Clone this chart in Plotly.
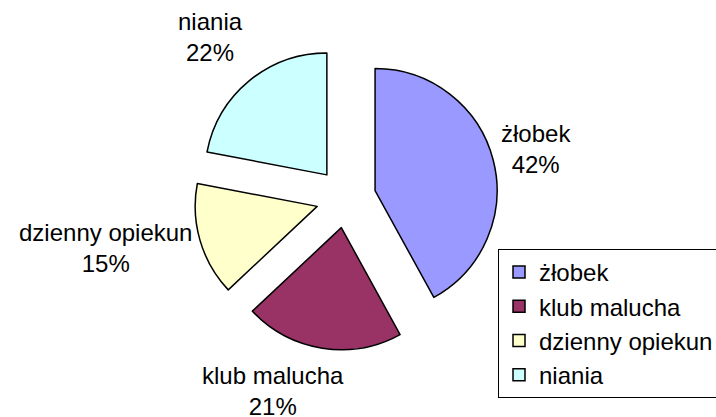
import math
import plotly.graph_objects as go

labels = ["żłobek", "klub malucha", "dzienny opiekun", "niania"]
values = [42, 21, 15, 22]
colors = ["#9999FF", "#993366", "#FFFFCC", "#CCFFFF"]

W, H = 716, 417
FONT = "Liberation Sans, Arial, sans-serif"
FS = 24

# pie placement (pixels)
cx, cy = 346, 198
radius = 122
pull = 0.246
half = radius * (1 + pull)

fig = go.Figure(go.Pie(
    labels=labels,
    values=values,
    sort=False,
    direction="clockwise",
    rotation=0,
    pull=[pull] * len(values),
    marker=dict(colors=colors, line=dict(color="black", width=1.5)),
    textinfo="none",
    hoverinfo="label+percent",
    domain=dict(x=[(cx - half) / W, (cx + half) / W],
                y=[1 - (cy + half) / H, 1 - (cy - half) / H]),
))

# data labels placed along each slice bisector
total = sum(values)
acc = 0
R_x = 158
R_y_side, R_y_end = 187, 166
lcy = 196
for lab, v in zip(labels, values):
    mid = (acc + v / 2) / total * 2 * math.pi
    acc += v
    sx, cyv = math.sin(mid), math.cos(mid)
    xa = "left" if sx > 0 else "right"
    px = cx if abs(sx) < 0.3 else cx + R_x * sx
    if abs(cyv) < 0.5:
        ya = "middle"
        py = lcy - R_y_side * cyv
    else:
        ya = "bottom" if cyv > 0 else "top"
        py = lcy - R_y_end * cyv
    fig.add_annotation(
        x=px / W, y=1 - py / H, xref="paper", yref="paper",
        text=f"{lab}<br>{round(v / total * 100)}%",
        showarrow=False, xanchor=xa, yanchor=ya, align="center",
        font=dict(family=FONT, size=FS, color="black"),
    )

fig.update_layout(
    width=W, height=H,
    margin=dict(l=0, r=0, t=0, b=0, autoexpand=False),
    paper_bgcolor="white", plot_bgcolor="white",
    font=dict(family=FONT, size=FS, color="black"),
    showlegend=True,
    legend=dict(
        x=498 / W, y=1 - 249 / H, xanchor="left", yanchor="top",
        bordercolor="black", borderwidth=1, bgcolor="white",
        font=dict(family=FONT, size=FS, color="black"),
        traceorder="normal", itemwidth=30,
    ),
)

fig.write_html(
    "out.html",
    config={"displayModeBar": False},
    post_script="document.body.style.margin='0';document.body.style.padding='0';"
                "document.body.style.overflow='hidden';",
)
